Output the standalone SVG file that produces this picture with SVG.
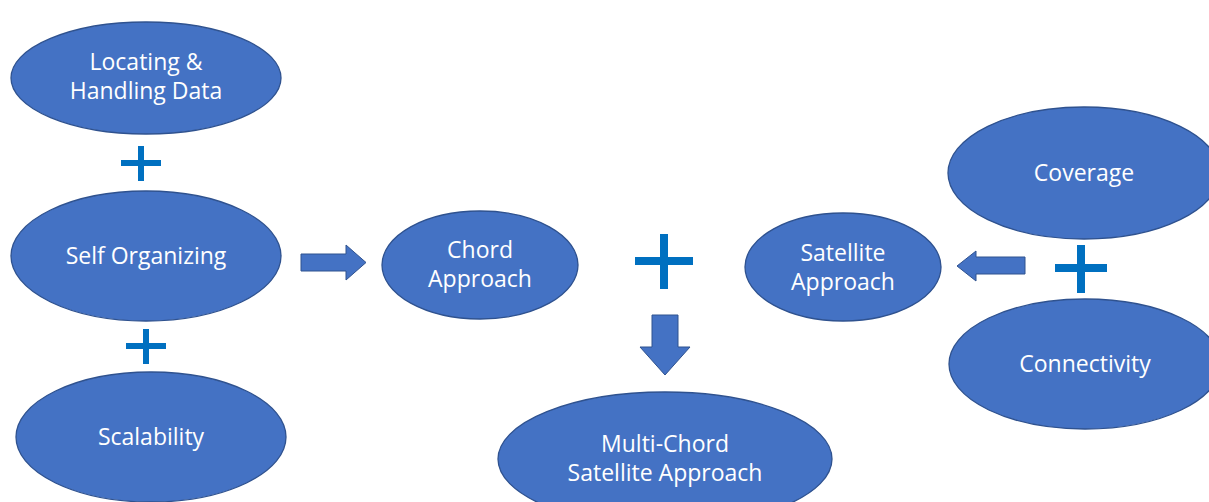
<svg xmlns="http://www.w3.org/2000/svg" width="1209" height="502" viewBox="0 0 1209 502">
  <style>
    .node ellipse { fill: #4472C4; stroke: #2F528F; stroke-width: 1.3; }
    .node text { fill: #FFFFFF; font-family: "Open Sans", "Noto Sans", sans-serif; font-size: 23px; text-anchor: middle; }
    .plus { fill: #0070C0; }
    .arrow { fill: #4472C4; stroke: #2F528F; stroke-width: 1; }
  </style>
  <rect width="1209" height="502" fill="#FFFFFF"/>

  <g id="locating" class="node">
    <ellipse cx="146" cy="78" rx="135" ry="56"/>
    <text x="146" y="70">Locating &amp;</text>
    <text x="146" y="99">Handling Data</text>
  </g>
  <g id="self-organizing" class="node">
    <ellipse cx="146" cy="256" rx="135" ry="65"/>
    <text x="146" y="264">Self Organizing</text>
  </g>
  <g id="scalability" class="node">
    <ellipse cx="151" cy="437" rx="135" ry="65"/>
    <text x="151" y="445">Scalability</text>
  </g>
  <g id="chord" class="node">
    <ellipse cx="480" cy="265" rx="98" ry="54"/>
    <text x="480" y="258">Chord</text>
    <text x="480" y="287">Approach</text>
  </g>
  <g id="satellite" class="node">
    <ellipse cx="843" cy="267" rx="98" ry="54"/>
    <text x="843" y="261">Satellite</text>
    <text x="843" y="290">Approach</text>
  </g>
  <g id="coverage" class="node">
    <ellipse cx="1084" cy="173" rx="136" ry="66"/>
    <text x="1084" y="181">Coverage</text>
  </g>
  <g id="connectivity" class="node">
    <ellipse cx="1085" cy="364" rx="136" ry="65"/>
    <text x="1085" y="372">Connectivity</text>
  </g>
  <g id="multi-chord" class="node">
    <ellipse cx="665" cy="459" rx="167" ry="67"/>
    <text x="665" y="452">Multi-Chord</text>
    <text x="665" y="481">Satellite Approach</text>
  </g>

  <g id="connectors">
    <!-- plus signs -->
    <rect class="plus" x="121" y="160" width="40" height="6"/>
    <rect class="plus" x="138" y="146" width="6" height="35"/>
    <rect class="plus" x="126" y="343" width="40" height="6"/>
    <rect class="plus" x="143" y="329" width="6" height="35"/>
    <rect class="plus" x="635" y="257" width="58" height="8"/>
    <rect class="plus" x="660" y="234" width="8" height="55"/>
    <rect class="plus" x="1055" y="264" width="52" height="8"/>
    <rect class="plus" x="1077" y="245" width="8" height="48"/>
    <!-- block arrows -->
    <path class="arrow" d="M301,254 H346 V245 L366,262.5 L346,280 V271 H301 Z"/>
    <path class="arrow" d="M652,315 H678 V347 H690 L665,375 L640,347 H652 Z"/>
    <path class="arrow" d="M1025,257 H976 V251 L957,266 L976,281 V274 H1025 Z"/>
  </g>
</svg>
